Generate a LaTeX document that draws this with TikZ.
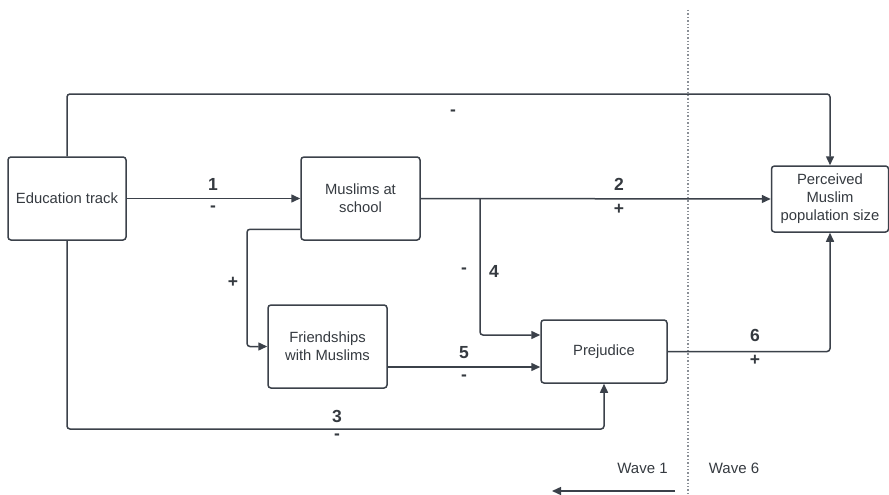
\documentclass[tikz,border=0pt]{standalone}
\usepackage{fontspec}
\setmainfont{Liberation Sans}
\usetikzlibrary{arrows.meta}
\definecolor{linec}{HTML}{3B414A}
\definecolor{textc}{HTML}{353A40}
\definecolor{dotc}{HTML}{8A8F96}
\tikzset{
  box/.style={draw=linec, line width=1.5pt, rounded corners=3pt, fill=white,
    align=center, text=textc, inner sep=2pt,
    font=\fontsize{14.8}{18}\selectfont},
  conn/.style={draw=linec, line width=1.5pt, rounded corners=3pt,
    -{Triangle[length=9pt,width=8pt]}},
  lbl/.style={text=textc, inner sep=0pt, font=\fontsize{17.5}{20}\selectfont\bfseries},
  wave/.style={text=textc, inner sep=0pt, font=\fontsize{15}{18}\selectfont}
}
\begin{document}
\begin{tikzpicture}[x=1pt, y=-1pt]
\useasboundingbox (0,0) rectangle (889,495);
% dotted wave separator
\coordinate (d1) at (688,10);
\coordinate (d2) at (688,493);
\draw[dotc, line width=1.3pt, dash pattern=on 1.4pt off 2pt] (d1) -- (d2);

% nodes
\node[box, minimum width=118pt, minimum height=83pt] (edu) at (67,198.5) {Education track};
\node[box, minimum width=119pt, minimum height=83pt] (mas) at (360.5,198.5) {Muslims at\\school};
\node[box, minimum width=117pt, minimum height=66pt] (perc) at (830,199) {Perceived\\Muslim\\population size};
\node[box, minimum width=119pt, minimum height=83pt] (fri) at (327.5,346.5) {Friendships\\with Muslims};
\node[box, minimum width=126pt, minimum height=63pt] (pre) at (604,351.5) {Prejudice};

% helper coordinates
\coordinate (top) at (400,94);
\coordinate (fb) at (247,300);
\coordinate (j4) at (480,198.5);
\coordinate (b3) at (300,429);

% connectors
\draw[conn] (edu.north) |- (top) -| (perc.north);
\draw[conn] (edu.east) -- (mas.west);
\draw[conn] (mas.east) -- (perc.west);
\draw[conn] ([yshift=11.5pt]mas.south west) -| (fb) |- (fri.west);
\draw[conn] (j4) |- ([yshift=16.5pt]pre.west);
\draw[conn] ([yshift=-20.5pt]fri.east) -- ([yshift=-20.5pt]fri.east -| pre.west);
\draw[conn] (edu.south) |- (b3) -| (pre.south);
\draw[conn] (pre.east) -| (perc.south);

% labels
\node[lbl] (l0) at (453,113) {-};
\node[lbl] (l1) at (213,184) {1};
\node[lbl] (l1s) at (213,209) {-};
\node[lbl] (l2) at (619,184) {2};
\node[lbl] (l2s) at (619,209) {+};
\node[lbl] (lp) at (233,282) {+};
\node[lbl] (l4s) at (464,271) {-};
\node[lbl] (l4) at (494,271) {4};
\node[lbl] (l5) at (464,353) {5};
\node[lbl] (l5s) at (464,378) {-};
\node[lbl] (l3) at (337,416) {3};
\node[lbl] (l3s) at (337,437) {-};
\node[lbl] (l6) at (755,335) {6};
\node[lbl] (l6s) at (755,360) {+};

% waves
\node[wave] (w1) at (642.5,468) {Wave 1};
\node[wave] (w6) at (734,468) {Wave 6};
\coordinate (a1) at (675,491);
\coordinate (a2) at (552,491);
\draw[conn] (a1) -- (a2);
\end{tikzpicture}
\end{document}
